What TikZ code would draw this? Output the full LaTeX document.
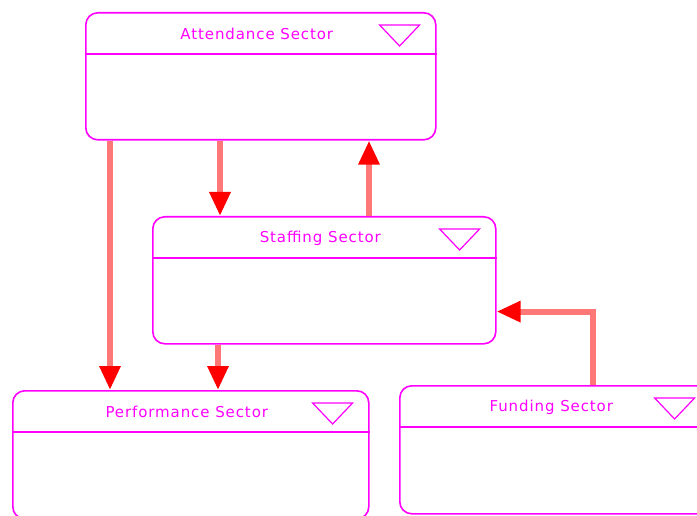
\documentclass[tikz,border=0pt]{standalone}
\usepackage{fontspec}
\setmainfont{DejaVu Sans}
\usetikzlibrary{arrows.meta,calc}
\definecolor{mag}{RGB}{255,0,255}
\definecolor{pipe}{RGB}{255,120,120}
\newcommand\SectorDeco[2]{%
  \draw[hdr] ($(#1.north west)+(0,42)$) -- ($(#1.north east)+(0,42)$);
  \draw[hdr, line width=1.2pt, line join=miter] ($(#1.north east)+(-57,13)$) -- ($(#1.north east)+(-17,13)$) -- ($(#1.north east)+(-37,34)$) -- cycle;
  \node[title] (#1-t) at ($(#1.north)+(-4,22)$) {#2};
}
\begin{document}
\begin{tikzpicture}[x=1pt,y=-1pt,
  sector/.style={draw=mag, line width=1.6pt, rounded corners=12pt, anchor=north west, inner sep=0pt},
  title/.style={text=mag, font=\fontsize{15}{17}\selectfont\addfontfeature{LetterSpace=6}, inner sep=0pt},
  hdr/.style={draw=mag, line width=1.6pt},
  flow/.style={draw=pipe, line width=6pt, -{Triangle[width=20pt,length=24pt,color=red,fill=red]}}]
\useasboundingbox (0,0) rectangle (697,516);
\clip (0,0) rectangle (697,516);
\node[sector, minimum width=350pt, minimum height=127pt] (att) at (85,12) {};
\node[sector, minimum width=343pt, minimum height=127pt] (staff) at (152,216) {};
\node[sector, minimum width=356pt, minimum height=128pt] (perf) at (12,390) {};
\node[sector, minimum width=311pt, minimum height=128pt] (fund) at (399,385) {};
\SectorDeco{att}{Attendance Sector}
\SectorDeco{staff}{Staffing Sector}
\SectorDeco{perf}{Performance Sector}
\SectorDeco{fund}{Funding Sector}
\draw[flow] ($(att.south west)+(25,0)$) -- ($(perf.north west)+(98,0)$);
\draw[flow] ($(att.south west)+(135,0)$) -- ($(staff.north west)+(68,0)$);
\draw[flow] ($(staff.north west)+(217,0)$) -- ($(att.south west)+(284,0)$);
\draw[flow] ($(staff.south west)+(66,0)$) -- ($(perf.north west)+(206,0)$);
\draw[flow] ($(fund.north west)+(194,0)$) |- ($(staff.south east)+(0,-33)$);
\end{tikzpicture}
\end{document}
